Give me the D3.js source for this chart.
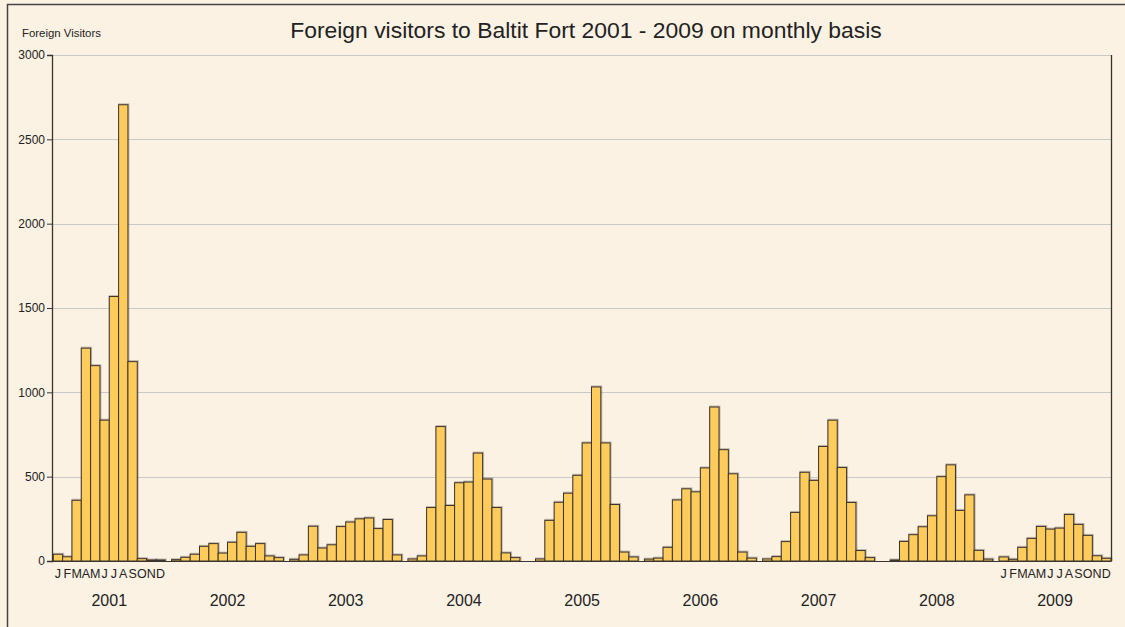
<!DOCTYPE html>
<html><head><meta charset="utf-8">
<script src="https://cdn.jsdelivr.net/npm/d3@7"></script>
<style>
html,body{margin:0;padding:0;background:#FCF2E4;}
svg{display:block;}
</style></head>
<body>
<svg id="chart" width="1125" height="627"></svg>
<script>
const years = ["2001","2002","2003","2004","2005","2006","2007","2008","2009"];
const months = ["J","F","M","A","M","J","J","A","S","O","N","D"];
const yTicks = [0,500,1000,1500,2000,2500,3000];
const v2001 = [40,25,360,1262,1158,835,1568,2705,1182,14,6,6];
const v2002 = [8,22,40,87,103,47,111,170,87,103,30,20];
const v2003 = [10,36,206,77,96,204,231,250,255,192,246,36];
const v2004 = [12,30,317,797,329,464,468,640,486,317,48,20];
const v2005 = [0,12,241,348,402,508,700,1032,700,335,53,24];
const v2006 = [11,17,81,362,428,410,552,913,660,517,53,17];
const v2007 = [12,26,115,288,526,478,679,835,554,347,62,20];
const v2008 = [0,6,116,156,203,268,500,570,300,392,63,11];
const v2009 = [24,10,81,134,205,189,195,276,217,152,31,16];
const series = [v2001,v2002,v2003,v2004,v2005,v2006,v2007,v2008,v2009];
const labeledYears = ["2001","2009"];

(function(){
const svg = d3.select("#chart");
const pL = 52, pR = 1111.5, pT = 55, pB = 561;

// outer frame (top and left edges)
svg.append("line").attr("x1",7).attr("x2",1125).attr("y1",4.5).attr("y2",4.5).attr("stroke","#444").attr("stroke-width",1.5);
svg.append("line").attr("x1",7.5).attr("x2",7.5).attr("y1",4).attr("y2",627).attr("stroke","#444").attr("stroke-width",1.5);

const y = d3.scaleLinear().domain([0,3000]).range([pB, pT]);
const xYear = d3.scaleBand().domain(years).range([53.3, 1111]).paddingInner(0.053).paddingOuter(0);
const xMonth = d3.scaleBand().domain(d3.range(12)).range([0, xYear.bandwidth()]).padding(0);

// gridlines
svg.append("g").selectAll("line").data(yTicks.filter(d=>d>0)).join("line")
  .attr("x1",pL).attr("x2",pR).attr("y1",d=>Math.round(y(d))+0.5).attr("y2",d=>Math.round(y(d))+0.5)
  .attr("stroke","#c9c9c9").attr("stroke-width",1);

// bars
const data = [];
series.forEach((vals,i)=>vals.forEach((v,m)=>data.push({year:years[i],m:m,v:v})));
const bars = svg.append("g");
bars.selectAll("rect.sh").data(data.filter(d=>d.v>0)).join("rect").attr("class","sh")
  .attr("x",d=>xYear(d.year)+xMonth(d.m)+0.5).attr("y",d=>y(d.v)-0.5)
  .attr("width",xMonth.bandwidth()).attr("height",d=>pB-y(d.v))
  .attr("fill","none").attr("stroke","rgba(90,80,70,0.35)").attr("stroke-width",2);
bars.selectAll("rect.b").data(data.filter(d=>d.v>0)).join("rect").attr("class","b")
  .attr("x",d=>xYear(d.year)+xMonth(d.m)).attr("y",d=>y(d.v))
  .attr("width",xMonth.bandwidth()).attr("height",d=>pB-y(d.v))
  .attr("fill","#FFCB5A").attr("stroke","#3a3430").attr("stroke-width",1);

// axes lines
svg.append("line").attr("x1",pL).attr("x2",pR).attr("y1",pB+0.5).attr("y2",pB+0.5).attr("stroke","#3a3430").attr("stroke-width",1.2);
svg.append("line").attr("x1",pR).attr("x2",pR).attr("y1",pT).attr("y2",pB).attr("stroke","#3a3430").attr("stroke-width",1.3);

const yAxis = d3.axisLeft(y).tickValues(yTicks).tickSize(5).tickPadding(2).tickFormat(d3.format("d"));
const ga = svg.append("g").attr("transform",`translate(${pL},0)`).call(yAxis);
ga.select(".domain").attr("stroke","#3a3430").attr("stroke-width",1.3);
ga.selectAll(".tick line").attr("stroke","#3a3430");
ga.selectAll(".tick text").attr("fill","#222").style("font-family","'Liberation Sans Narrow','Liberation Sans',Arial,sans-serif").style("font-size","12px");

// month labels
labeledYears.forEach(yr=>{
  svg.append("g").selectAll("text").data(months).join("text")
    .attr("x",(d,i)=>xYear(yr)+xMonth(i)+xMonth.bandwidth()/2)
    .attr("y",578).attr("text-anchor","middle")
    .style("font-family","'Liberation Sans Narrow','Liberation Sans',Arial,sans-serif").style("font-size","12.5px")
    .attr("fill","#222").text(d=>d);
});

// year labels
svg.append("g").selectAll("text").data(years).join("text")
  .attr("x",d=>xYear(d)+xYear.bandwidth()/2).attr("y",606).attr("text-anchor","middle")
  .style("font-family","'Liberation Sans',Arial,sans-serif").style("font-size","16px").attr("fill","#222").text(d=>d);

// title
svg.append("text").attr("x",586).attr("y",38).attr("text-anchor","middle")
  .style("font-family","'Liberation Sans',Arial,sans-serif").style("font-size","22.9px").attr("fill","#222")
  .text("Foreign visitors to Baltit Fort 2001 - 2009 on monthly basis");

// y title
svg.append("text").attr("x",22).attr("y",37)
  .style("font-family","'Liberation Sans Narrow','Liberation Sans',Arial,sans-serif").style("font-size","11.4px").attr("fill","#222")
  .text("Foreign Visitors");
})();
</script>
</body></html>
